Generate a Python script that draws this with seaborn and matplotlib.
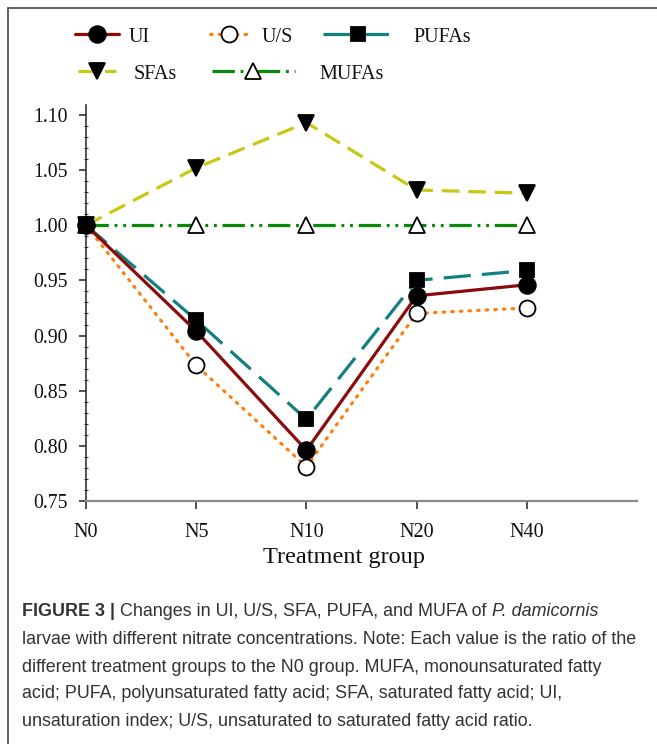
import numpy as np
import pandas as pd
import matplotlib
matplotlib.use("Agg")
import matplotlib.pyplot as plt
import seaborn as sns
from matplotlib.ticker import MultipleLocator, FormatStrFormatter
from matplotlib.lines import Line2D

# ---------------- data ----------------
groups = ["N0", "N5", "N10", "N20", "N40"]
ui = [1.000, 0.904, 0.796, 0.936, 0.946]
us = [1.000, 0.873, 0.781, 0.920, 0.925]
pufas = [1.000, 0.914, 0.824, 0.950, 0.959]
sfas = [1.000, 1.052, 1.093, 1.032, 1.029]
mufas = [1.000, 1.000, 1.000, 1.000, 1.000]
series_names = ["UI", "U/S", "PUFAs", "SFAs", "MUFAs"]
y_ticks = [0.75, 0.80, 0.85, 0.90, 0.95, 1.00, 1.05, 1.10]
x_label = "Treatment group"
caption_lines = [
    "larvae with different nitrate concentrations. Note: Each value is the ratio of the",
    "different treatment groups to the N0 group. MUFA, monounsaturated fatty",
    "acid; PUFA, polyunsaturated fatty acid; SFA, saturated fatty acid; UI,",
    "unsaturation index; U/S, unsaturated to saturated fatty acid ratio.",
]

pos = np.arange(len(groups))
df = pd.DataFrame({"pos": pos, "UI": ui, "U/S": us, "PUFAs": pufas,
                   "SFAs": sfas, "MUFAs": mufas})

sns.set_theme(style="white")
plt.rcParams["font.family"] = ["Liberation Serif", "DejaVu Serif"]

W, H = 657, 744
fig = plt.figure(figsize=(W / 100, H / 100), dpi=100)
ax = fig.add_axes([86 / W, 1 - 501 / H, (637 - 86) / W, (501 - 105) / H])

lw = 2.3
styles = {
    "MUFAs": dict(color="#0a8a0a", ls=(0, (7, 1.8, 0.9, 1.8, 0.9, 1.8)), marker="^",
                  mfc="white", ms=11.5, cap="butt"),
    "SFAs": dict(color="#c8c814", ls=(0, (5.5, 2.8)), marker="v",
                 mfc="black", ms=11.5, cap="butt"),
    "PUFAs": dict(color="#128080", ls=(0, (8.5, 3.5)), marker="s",
                  mfc="black", ms=10.5, cap="butt"),
    "U/S": dict(color="#ff7f0e", ls=(0, (0.5, 2.2)), marker="o",
                mfc="white", ms=11.5, cap="round"),
    "UI": dict(color="#8b0a0a", ls="-", marker="o",
               mfc="black", ms=12, cap="butt"),
}

for name in ["MUFAs", "SFAs", "PUFAs", "U/S", "UI"]:
    st = styles[name]
    sns.lineplot(data=df, x="pos", y=name, ax=ax, color=st["color"],
                 linestyle=st["ls"], linewidth=lw, marker=st["marker"],
                 markersize=st["ms"], markerfacecolor=st["mfc"],
                 markeredgecolor="black", markeredgewidth=1.3,
                 dash_capstyle=st["cap"], clip_on=False, zorder=3)

ax.set_xlim(0, 5)
ax.set_ylim(0.75, 1.109)
ax.set_xticks(pos)
ax.set_xticklabels(groups)
ax.set_yticks(y_ticks)
ax.yaxis.set_major_formatter(FormatStrFormatter("%.2f"))
ax.yaxis.set_minor_locator(MultipleLocator(0.01))
ax.set_xlabel(x_label, fontsize=17.5, color="#111111")
ax.xaxis.set_label_coords((344 - 86) / (637 - 86), -(558 - 501) / (501 - 105))
ax.xaxis.label.set_va("center")
ax.set_ylabel("")

for s in ["top", "right"]:
    ax.spines[s].set_visible(False)
ax.spines["left"].set_color("#222222")
ax.spines["left"].set_linewidth(1.1)
ax.spines["bottom"].set_color("#8a8a8a")
ax.spines["bottom"].set_linewidth(1.6)

ax.tick_params(axis="y", which="major", direction="out", length=5, width=1.1,
               color="#222222", labelsize=14.3, pad=8, left=True, labelcolor="#111111")
ax.tick_params(axis="y", which="minor", direction="inout", length=3, width=0.8,
               color="#444444", left=True)
ax.tick_params(axis="x", which="major", direction="out", length=6, width=1.1,
               color="#222222", labelsize=14.5, pad=10, bottom=True, labelcolor="#111111")

# ---------------- legend (one entry each, placed like the reference) ----------------
leg_specs = [
    # name, x_start px, y px, handle length (em), text pad (em)
    ("UI", 75, 37, 2.2, 0.45),
    ("U/S", 210, 37, 1.9, 0.65),
    ("PUFAs", 323, 37, 3.45, 1.05),
    ("SFAs", 78, 74, 1.9, 0.85),
    ("MUFAs", 212, 74, 4.1, 1.25),
]
for name, x0, y0, hl, tp in leg_specs:
    st = styles[name]
    h = Line2D([], [], color=st["color"], linestyle=st["ls"], linewidth=lw,
               marker=st["marker"], markersize=st["ms"], markerfacecolor=st["mfc"],
               markeredgecolor="black", markeredgewidth=1.3,
               dash_capstyle=st["cap"])
    lg = fig.legend(handles=[h], labels=[name], loc="center left",
                    bbox_to_anchor=(x0 / W, 1 - y0 / H), frameon=False,
                    fontsize=14.5, handlelength=hl, handletextpad=tp,
                    borderpad=0, borderaxespad=0, numpoints=1)
    for t in lg.get_texts():
        t.set_color("#111111")

# ---------------- frame lines (top and left) ----------------
fig.add_artist(Line2D([7.5 / W, 1], [1 - 8 / H, 1 - 8 / H], transform=fig.transFigure,
                      color="#555555", linewidth=1.3))
fig.add_artist(Line2D([7.5 / W, 7.5 / W], [0, 1 - 8 / H], transform=fig.transFigure,
                      color="#555555", linewidth=1.3))

# ---------------- caption ----------------
cap_font = ["Liberation Sans", "DejaVu Sans"]
cap_size = 12.9
cap_color = "#333333"
x_start = 22 / W
line_y = [612, 639, 667, 694, 721]

fig.canvas.draw()
renderer = fig.canvas.get_renderer()
pieces = [("FIGURE 3 | ", "bold", "normal"),
          ("Changes in UI, U/S, SFA, PUFA, and MUFA of ", "normal", "normal"),
          ("P. damicornis", "normal", "italic")]
xc = x_start
for txt, wt, stl in pieces:
    t = fig.text(xc, 1 - line_y[0] / H, txt, family=cap_font, fontsize=cap_size,
                 fontweight=wt, fontstyle=stl, color=cap_color, va="center", ha="left")
    bb = t.get_window_extent(renderer=renderer)
    xc += bb.width / W
for i, line in enumerate(caption_lines):
    fig.text(x_start, 1 - line_y[i + 1] / H, line, family=cap_font, fontsize=cap_size,
             color=cap_color, va="center", ha="left")

fig.savefig("out.png", dpi=100)
